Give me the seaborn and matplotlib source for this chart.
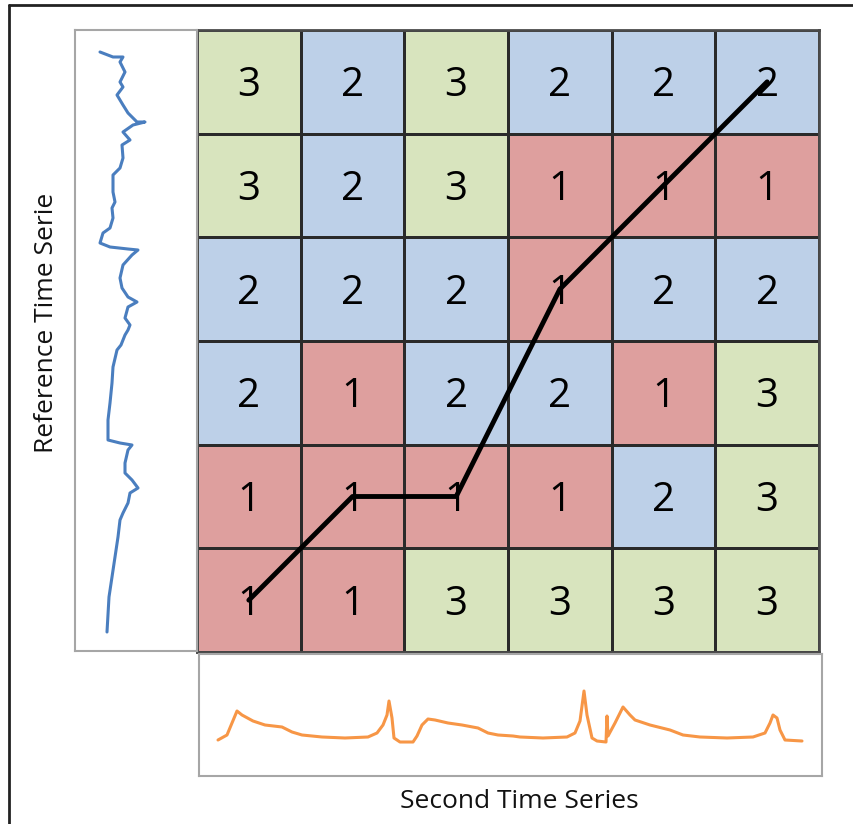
import numpy as np
import pandas as pd
import matplotlib.pyplot as plt
import seaborn as sns
from matplotlib.colors import ListedColormap
from matplotlib.lines import Line2D

sns.set_style("white")
plt.rcParams["font.family"] = ["Open Sans", "DejaVu Sans"]

# Matriz de classes (linhas de cima para baixo)
grid_values = [
    [3, 2, 3, 2, 2, 2],
    [3, 2, 3, 1, 1, 1],
    [2, 2, 2, 1, 2, 2],
    [2, 1, 2, 2, 1, 3],
    [1, 1, 1, 1, 2, 3],
    [1, 1, 3, 3, 3, 3],
]

# Caminho de alinhamento (coluna, linha)
path_cols = [0, 1, 2, 3, 4, 5]
path_rows = [5, 4, 4, 2, 1, 0]

# Série de referência (vertical): tempo e valor
ref_time = [22, 27, 27, 32, 42, 52, 57, 65, 75, 83, 92, 92, 95, 102, 110, 115,
            128, 138, 145, 162, 172, 178, 188, 198, 203, 213, 217, 219, 220, 225,
            235, 248, 258, 267, 272, 277, 288, 295, 300, 305, 315, 320, 337, 353,
            373, 390, 410, 413, 415, 420, 433, 443, 450, 458, 463, 473, 483, 490,
            507, 527, 547, 567, 602]
ref_value = [25, 38, 48, 45, 50, 45, 48, 42, 48, 53, 62, 70, 58, 48, 55, 47,
             48, 45, 38, 38, 40, 37, 38, 35, 28, 25, 35, 53, 63, 57,
             48, 45, 47, 53, 62, 53, 50, 55, 53, 50, 46, 42, 38, 37,
             35, 33, 33, 45, 57, 53, 50, 50, 57, 63, 55, 53, 48, 45,
             43, 40, 37, 34, 32]

# Segunda série (horizontal)
sec_time = [19, 28, 33, 38, 43, 54, 66, 83, 93, 103, 123, 146, 169, 178, 184,
            188, 190, 193, 195, 201, 214, 218, 223, 229, 236, 249, 263, 279, 289,
            299, 314, 321, 344, 368, 376, 381, 385, 388, 393, 398, 407, 408, 409,
            416, 424, 431, 436, 451, 471, 484, 501, 528, 554, 566, 571, 574, 578,
            581, 586, 603]
sec_value = [36, 41, 53, 65, 61, 55, 51, 49, 44, 41, 39, 38, 39, 43, 51,
             61, 75, 58, 38, 34, 34, 40, 51, 57, 56, 53, 51, 48, 43,
             41, 40, 39, 38, 39, 43, 55, 85, 61, 38, 35, 34, 60, 40,
             53, 69, 61, 56, 51, 46, 41, 39, 38, 39, 43, 53, 61, 58,
             46, 36, 35]

W, H = 854, 824
fig = plt.figure(figsize=(W / 100, H / 100), dpi=100)

def box(x0, y0, x1, y1):
    return [x0 / W, 1 - y1 / H, (x1 - x0) / W, (y1 - y0) / H]

# Mapa de calor
ax_hm = fig.add_axes(box(197, 30, 819, 652))
cmap = ListedColormap(["#DE9F9E", "#BDD0E8", "#D8E4BE"])
sns.heatmap(pd.DataFrame(grid_values), ax=ax_hm, cmap=cmap, vmin=0.5, vmax=3.5,
            annot=True, fmt="d", cbar=False, linewidths=0.8, linecolor="#2a2a2a",
            annot_kws={"fontsize": 29, "color": "black"})
for t in ax_hm.texts:
    x, y = t.get_position()
    t.set_position((x, y + 0.04))
ax_hm.set_xticks([])
ax_hm.set_yticks([])
ax_hm.set_xlabel("")
ax_hm.set_ylabel("")
for s in ax_hm.spines.values():
    s.set_visible(True)
    s.set_color("#4a4a4a")
    s.set_linewidth(2)
ax_hm.plot(np.array(path_cols) + 0.5, np.array(path_rows) + 0.5,
           color="black", linewidth=3.5, solid_capstyle="round", zorder=5)

# Série de referência
ax_ref = fig.add_axes(box(75, 30, 197, 651))
sns.lineplot(x=ref_value, y=ref_time, sort=False, estimator=None, ax=ax_ref,
             color="#4A7EBF", linewidth=2.2)
ax_ref.set_xlim(0, 122)
ax_ref.set_ylim(621, 0)
ax_ref.set_xticks([])
ax_ref.set_yticks([])
for s in ax_ref.spines.values():
    s.set_color("#A6A6A6")
    s.set_linewidth(1.5)

# Segunda série
ax_sec = fig.add_axes(box(199, 654, 822, 776))
sns.lineplot(x=sec_time, y=sec_value, sort=False, estimator=None, ax=ax_sec,
             color="#F79646", linewidth=2.2)
ax_sec.set_xlim(0, 623)
ax_sec.set_ylim(0, 122)
ax_sec.set_xticks([])
ax_sec.set_yticks([])
for s in ax_sec.spines.values():
    s.set_color("#A6A6A6")
    s.set_linewidth(1.5)

# Rótulos
fig.text(47 / W, 1 - 323 / H, "Reference Time Serie", rotation=90,
         ha="center", va="center", fontsize=19, color="#111111")
fig.text(519 / W, 1 - 802 / H, "Second Time Series",
         ha="center", va="center", fontsize=19, color="#111111")

# Moldura externa
fig.add_artist(Line2D([9 / W, 9 / W], [0, 1 - 5 / H], color="#222222", linewidth=2))
fig.add_artist(Line2D([9 / W, 1], [1 - 5 / H, 1 - 5 / H], color="#222222", linewidth=2))

plt.savefig("out.png", dpi=100)
plt.close()
